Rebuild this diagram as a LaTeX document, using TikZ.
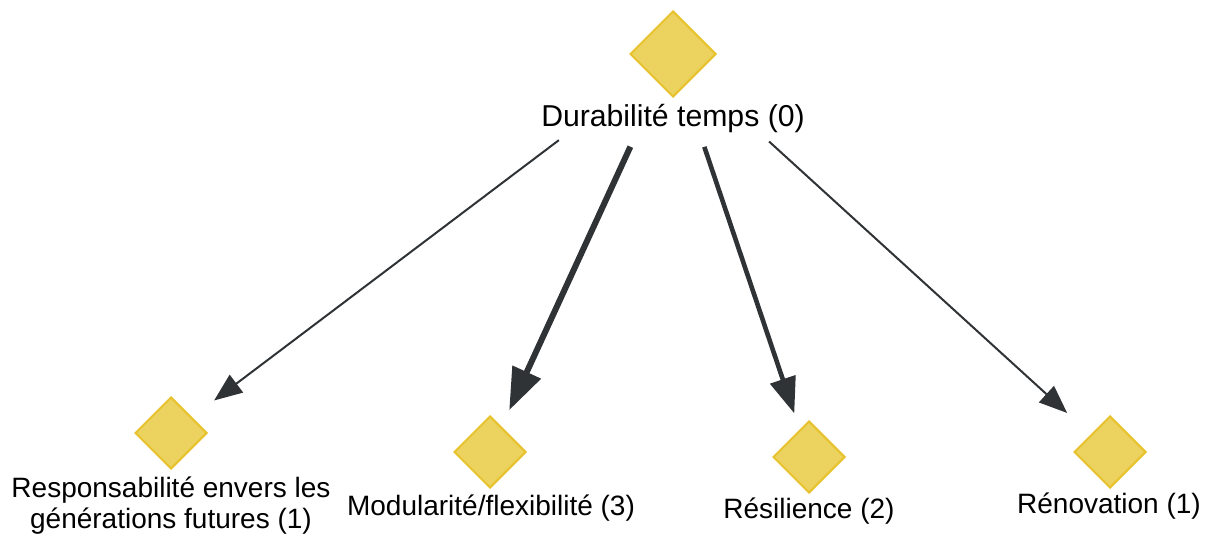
\documentclass[tikz,border=0pt]{standalone}
\usepackage{fontspec}
\setmainfont{Liberation Sans}
\usetikzlibrary{shapes.geometric,arrows.meta}
\definecolor{dfill}{RGB}{236,211,95}
\definecolor{ddraw}{RGB}{231,194,45}
\definecolor{edgec}{RGB}{47,51,54}
\tikzset{
  dia/.style={diamond,aspect=1,inner sep=0pt,fill=dfill,draw=ddraw,line width=1pt,minimum width=36pt,minimum height=36pt},
  bigdia/.style={dia,minimum width=43pt,minimum height=43pt},
  lbl/.style={anchor=base,inner sep=0pt,font=\fontsize{14}{15.5}\selectfont,align=center},
  toplbl/.style={anchor=base,inner sep=0pt,font=\fontsize{15.1}{17}\selectfont},
  w1/.style={draw=edgec,line width=1pt,-{Triangle[length=14pt,width=11pt]},edgec},
  w2/.style={draw=edgec,line width=2.3pt,-{Triangle[length=18pt,width=13pt]},edgec},
  w3/.style={draw=edgec,line width=3pt,-{Triangle[length=21pt,width=15pt]},edgec}
}
\begin{document}
\begin{tikzpicture}[x=0.5pt,y=-0.5pt]
\useasboundingbox (0,0) rectangle (1212,535);
\node[bigdia] (top) at (673,54) {};
\node[toplbl] (toplabel) at (673,127) {Durabilité temps (0)};
\node[dia] (d1) at (171,433) {};
\node[dia] (d2) at (490,452) {};
\node[dia] (d3) at (809,457) {};
\node[dia] (d4) at (1110,452) {};
\node[lbl] (l1) at (171,528) {Responsabilité envers les\\générations futures (1)};
\node[lbl] (l2) at (491,515) {Modularité/flexibilité (3)};
\node[lbl] (l3) at (809,518) {Résilience (2)};
\node[lbl] (l4) at (1109,513) {Rénovation (1)};
\draw[w1,shorten <=71.5pt,shorten >=27pt] (top.center) -- (d1.center);
\draw[w3,shorten <=51pt,shorten >=23pt] (top.center) -- (d2.center);
\draw[w2,shorten <=49pt,shorten >=23pt] (top.center) -- (d3.center);
\draw[w1,shorten <=65pt,shorten >=29pt] (top.center) -- (d4.center);
\end{tikzpicture}
\end{document}
